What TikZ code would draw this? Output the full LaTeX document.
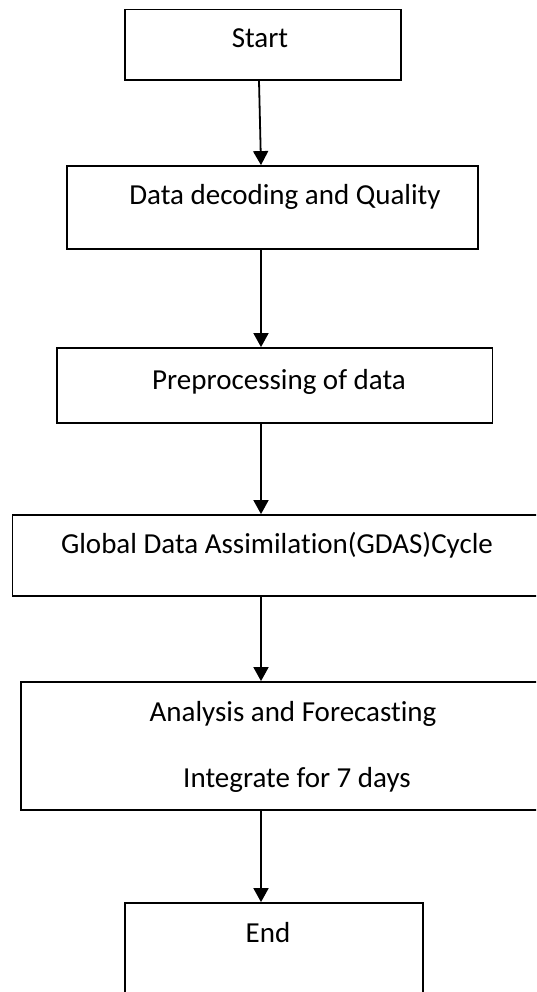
\documentclass[tikz,border=0pt]{standalone}
\usepackage{fontspec}
\setmainfont{Carlito}[Ligatures=NoCommon]
\usetikzlibrary{arrows.meta}
\begin{document}
\begin{tikzpicture}[x=1pt,y=-1pt,
  box/.style={draw=black, line width=1.8pt, inner sep=0pt},
  lbl/.style={inner sep=0pt, anchor=base, font=\fontsize{29}{35}\selectfont},
  arr/.style={line width=1.8pt, -{Triangle[width=15pt,length=14pt]}}]
\clip (0,0) rectangle (536,992);
\fill[white] (0,0) rectangle (536,992);

% process boxes (corners in page units)
\node[box, minimum width=276pt, minimum height=70.5pt] (start) at (263,44.75) {};
\node[box, minimum width=411pt, minimum height=83pt]   (decode) at (272.5,207.5) {};
\node[box, minimum width=435.5pt, minimum height=75pt] (prep) at (274.75,385.5) {};
\node[box, minimum width=548pt, minimum height=81pt]   (gdas) at (286.5,555.5) {};
\node[box, minimum width=540pt, minimum height=128pt]  (fcst) at (291,746) {};
\node[box, minimum width=298pt, minimum height=110pt]  (stop) at (274,958) {};

% labels
\node[lbl] (tstart)  at (260,48)  {Start};
\node[lbl] (tdecode) at (285,205) {Data decoding and Quality};
\node[lbl] (tprep)   at (279,389) {Preprocessing of data};
\node[lbl] (tgdas)   at (277,553) {Global Data Assimilation(GDAS)Cycle};
\node[lbl] (tfcst)   at (293,721) {Analysis and Forecasting};
\node[lbl] (tint)    at (297,787) {Integrate for 7 days};
\node[lbl] (tstop)   at (268,942) {End};

% flow arrows
\coordinate (ax) at (261,0);
\coordinate (ax0) at (259,0);
\draw[arr] (start.south -| ax0) -- (decode.north -| ax);
\draw[arr] (decode.south -| ax) -- (prep.north -| ax);
\draw[arr] (prep.south -| ax) -- (gdas.north -| ax);
\draw[arr] (gdas.south -| ax) -- (fcst.north -| ax);
\draw[arr] (fcst.south -| ax) -- (stop.north -| ax);
\end{tikzpicture}
\end{document}
